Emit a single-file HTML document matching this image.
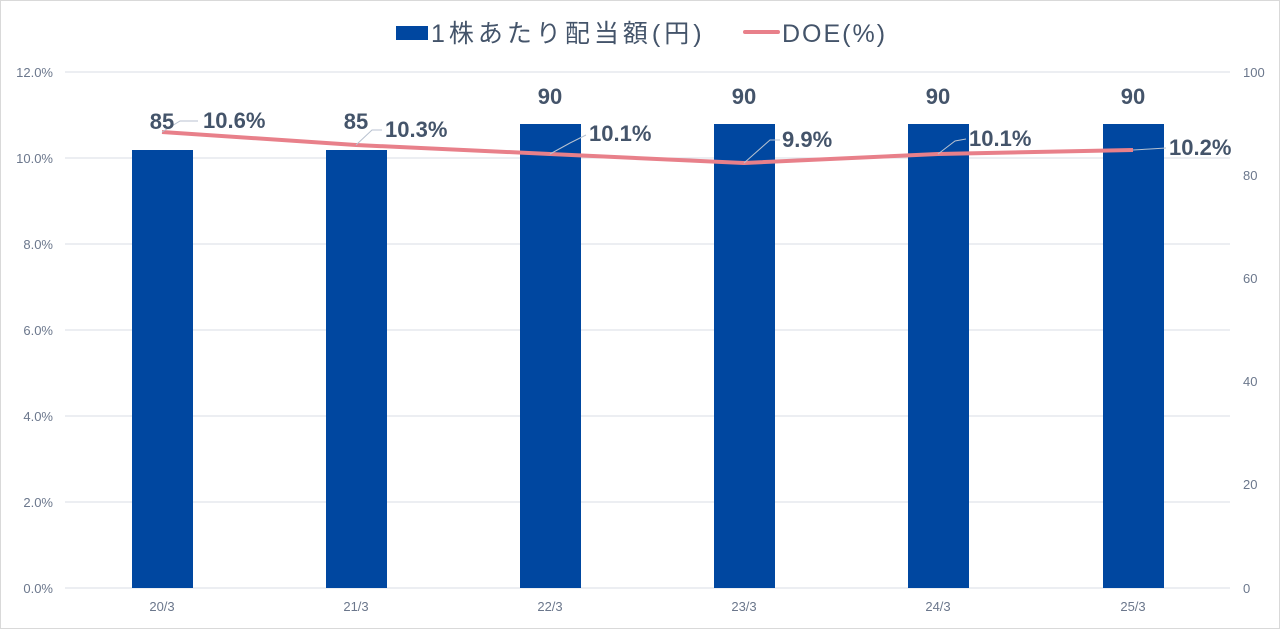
<!DOCTYPE html>
<html><head><meta charset="utf-8"><style>
html,body{margin:0;padding:0;background:#fff;}
svg{display:block;font-family:"Liberation Sans","Noto Sans CJK JP",sans-serif;}
</style></head><body>
<svg width="1280" height="629" viewBox="0 0 1280 629">
<rect x="0.5" y="0.5" width="1279" height="628" fill="#fff" stroke="#d9d9d9"/>
<g stroke="#d9dde6" stroke-width="1">
<line x1="65" y1="72" x2="1230" y2="72"/>
<line x1="65" y1="158" x2="1230" y2="158"/>
<line x1="65" y1="244" x2="1230" y2="244"/>
<line x1="65" y1="330" x2="1230" y2="330"/>
<line x1="65" y1="416" x2="1230" y2="416"/>
<line x1="65" y1="502" x2="1230" y2="502"/>
<line x1="65" y1="588" x2="1230" y2="588"/>
</g>
<g fill="#6b778c" font-size="13" text-anchor="end">
<text x="53" y="77">12.0%</text><text x="53" y="163">10.0%</text><text x="53" y="249">8.0%</text>
<text x="53" y="335">6.0%</text><text x="53" y="421">4.0%</text><text x="53" y="507">2.0%</text><text x="53" y="593">0.0%</text>
</g>
<g fill="#6b778c" font-size="13">
<text x="1243" y="77">100</text><text x="1243" y="180">80</text><text x="1243" y="283">60</text>
<text x="1243" y="386">40</text><text x="1243" y="489">20</text><text x="1243" y="593">0</text>
</g>
<g fill="#6b778c" font-size="13" text-anchor="middle">
<text x="162" y="611">20/3</text><text x="356" y="611">21/3</text><text x="550" y="611">22/3</text>
<text x="744" y="611">23/3</text><text x="938" y="611">24/3</text><text x="1133" y="611">25/3</text>
</g>
<g fill="#0047a0">
<rect x="132" y="150" width="61" height="438"/>
<rect x="326" y="150" width="61" height="438"/>
<rect x="520" y="124" width="61" height="464"/>
<rect x="714" y="124" width="61" height="464"/>
<rect x="908" y="124" width="61" height="464"/>
<rect x="1103" y="124" width="61" height="464"/>
</g>
<polyline points="162,132 356,145 550,154 744,163 938,154 1133,150" fill="none" stroke="#e8808a" stroke-width="4" stroke-linejoin="round"/>
<g stroke="#b8c2d0" stroke-width="1" fill="none">
<polyline points="162,132 180,121 198,121"/>
<polyline points="356,145 372,130 382,130"/>
<polyline points="550,154 570,143 586,135"/>
<polyline points="744,163 770,140 780,140"/>
<polyline points="938,154 955,141 966,139"/>
<polyline points="1133,150 1150,149 1166,148"/>
</g>
<g fill="#44546a" font-size="22" font-weight="bold">
<text x="162" y="129" text-anchor="middle">85</text>
<text x="356" y="129" text-anchor="middle">85</text>
<text x="550" y="104" text-anchor="middle">90</text>
<text x="744" y="104" text-anchor="middle">90</text>
<text x="938" y="104" text-anchor="middle">90</text>
<text x="1133" y="104" text-anchor="middle">90</text>
<text x="203" y="128">10.6%</text>
<text x="385" y="137">10.3%</text>
<text x="589" y="141">10.1%</text>
<text x="782" y="147">9.9%</text>
<text x="969" y="146">10.1%</text>
<text x="1169" y="155">10.2%</text>
</g>
<rect x="396" y="26" width="32" height="14" fill="#0047a0"/>
<text x="431" y="42" font-size="25" fill="#44546a" letter-spacing="4">1株あたり配当額(円)</text>
<line x1="745" y1="32" x2="778" y2="32" stroke="#e8808a" stroke-width="4" stroke-linecap="round"/>
<text x="782" y="42" font-size="25" fill="#44546a" letter-spacing="2">DOE(%)</text>
</svg>
</body></html>
